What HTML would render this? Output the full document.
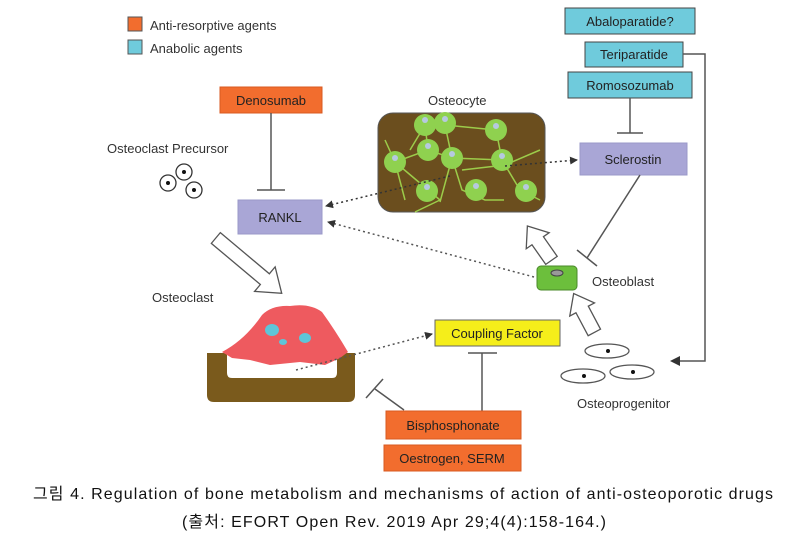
<!DOCTYPE html>
<html><head><meta charset="utf-8"><style>
body{margin:0;background:#fff;}
svg{display:block;font-family:"Liberation Sans","Noto Sans CJK KR",sans-serif;}
.t{font-size:13px;fill:#333;}
.b{font-size:13px;fill:#222;}
</style></head><body>
<svg width="802" height="541" viewBox="0 0 802 541" xmlns="http://www.w3.org/2000/svg">
<defs>
<marker id="ah" markerWidth="8" markerHeight="8" refX="7" refY="4" orient="auto" markerUnits="userSpaceOnUse"><path d="M0,0 L8,4 L0,8z" fill="#333"/></marker>
</defs>
<!-- legend -->
<rect x="128" y="17" width="14" height="14" fill="#f26d2e" stroke="#555"/>
<text x="150" y="30" class="t">Anti-resorptive agents</text>
<rect x="128" y="40" width="14" height="14" fill="#6fcbdc" stroke="#555"/>
<text x="150" y="53" class="t">Anabolic agents</text>

<!-- right boxes -->
<rect x="565" y="8" width="130" height="26" fill="#6fcbdc" stroke="#444"/>
<text x="630" y="26" class="b" text-anchor="middle">Abaloparatide?</text>
<rect x="585" y="42" width="98" height="25" fill="#6fcbdc" stroke="#444"/>
<text x="634" y="59" class="b" text-anchor="middle">Teriparatide</text>
<rect x="568" y="72" width="124" height="26" fill="#6fcbdc" stroke="#444"/>
<text x="630" y="90" class="b" text-anchor="middle">Romosozumab</text>
<rect x="580" y="143" width="107" height="32" fill="#a9a6d6" stroke="#9a98c8"/>
<text x="633" y="164" class="b" text-anchor="middle">Sclerostin</text>
<line x1="630" y1="98" x2="630" y2="133" stroke="#555" stroke-width="1.5"/>
<line x1="617" y1="133" x2="643" y2="133" stroke="#555" stroke-width="1.5"/>
<polyline points="683,54 705,54 705,361 676,361" fill="none" stroke="#555" stroke-width="1.5"/>
<path d="M670,361 L680,356 L680,366z" fill="#333"/>

<!-- Denosumab / RANKL -->
<rect x="220" y="87" width="102" height="26" fill="#f26d2e" stroke="#d85a20"/>
<text x="271" y="105" class="b" text-anchor="middle">Denosumab</text>
<line x1="271" y1="113" x2="271" y2="190" stroke="#555" stroke-width="1.5"/>
<line x1="257" y1="190" x2="285" y2="190" stroke="#555" stroke-width="1.5"/>
<rect x="238" y="200" width="84" height="34" fill="#a9a6d6" stroke="#9a98c8"/>
<text x="280" y="222" class="b" text-anchor="middle">RANKL</text>

<!-- precursor -->
<text x="107" y="153" class="t">Osteoclast Precursor</text>
<g fill="#fff" stroke="#333" stroke-width="1.3">
<circle cx="184" cy="172" r="8"/><circle cx="168" cy="183" r="8"/><circle cx="194" cy="190" r="8"/></g>
<g fill="#111"><circle cx="184" cy="172" r="2"/><circle cx="168" cy="183" r="2"/><circle cx="194" cy="190" r="2"/></g>
<!-- hollow arrow down-right -->
<g transform="translate(248,265) rotate(40)"><path d="M-42,-7 L22,-7 L22,-16 L44,0 L22,16 L22,7 L-42,7z" fill="#fff" stroke="#555" stroke-width="1.3"/></g>
<text x="152" y="302" class="t">Osteoclast</text>

<!-- osteoclast & bone -->
<path d="M207,353 L355,353 Q355,353 355,360 L355,395 Q355,402 348,402 L214,402 Q207,402 207,395z" fill="#7a5a1c"/>
<path d="M227,353 L337,353 L337,373 Q337,378 332,378 L232,378 Q227,378 227,373z" fill="#fff"/>
<path d="M222,352 Q245,340 262,315 Q272,305 290,306 Q310,303 322,312 Q335,330 348,352 L340,358 L325,365 L300,362 L270,365 L250,360 L232,358z" fill="#ee5a5f"/>
<ellipse cx="272" cy="330" rx="7" ry="6" fill="#5ec5d8"/><ellipse cx="305" cy="338" rx="6" ry="5" fill="#5ec5d8"/><ellipse cx="283" cy="342" rx="4" ry="3" fill="#5ec5d8"/>
<line x1="296" y1="370" x2="432" y2="334" stroke="#555" stroke-width="1.5" stroke-dasharray="2,3" marker-end="url(#ah)"/>

<!-- coupling factor -->
<rect x="435" y="320" width="125" height="26" fill="#f5ee1a" stroke="#666"/>
<text x="497" y="338" class="b" text-anchor="middle">Coupling Factor</text>
<line x1="482" y1="353" x2="482" y2="411" stroke="#555" stroke-width="1.5"/>
<line x1="468" y1="353" x2="497" y2="353" stroke="#555" stroke-width="1.5"/>
<line x1="404" y1="410" x2="375" y2="389" stroke="#555" stroke-width="1.5"/>
<line x1="366" y1="398" x2="383" y2="379" stroke="#555" stroke-width="1.5"/>
<rect x="386" y="411" width="135" height="28" fill="#f26d2e" stroke="#d85a20"/>
<text x="453" y="430" class="b" text-anchor="middle">Bisphosphonate</text>
<rect x="384" y="445" width="137" height="26" fill="#f26d2e" stroke="#d85a20"/>
<text x="452" y="463" class="b" text-anchor="middle">Oestrogen, SERM</text>

<!-- osteocyte -->
<text x="428" y="105" class="t">Osteocyte</text>
<rect x="378" y="113" width="167" height="99" rx="15" fill="#6b4e1e" stroke="#555"/>
<g stroke="#9ccc4a" stroke-width="1.5" fill="none">
<path d="M425,125 L445,125 L496,130 M425,125 L428,150 L395,162 L405,200 M428,150 L452,158 L440,202 M445,125 L452,158 L502,160 L496,130 M452,158 L462,190 L485,200 L504,200 M502,160 L520,190 M395,162 L440,200 M462,170 L505,165 L540,150 M395,162 L385,140 M440,200 L415,212 M520,190 L540,200 M425,125 L410,150"/>
</g>
<g fill="#8fd14f">
<circle cx="425" cy="125" r="11"/><circle cx="445" cy="123" r="11"/><circle cx="496" cy="130" r="11"/><circle cx="428" cy="150" r="11"/><circle cx="452" cy="158" r="11"/><circle cx="502" cy="160" r="11"/><circle cx="395" cy="162" r="11"/><circle cx="427" cy="191" r="11"/><circle cx="476" cy="190" r="11"/><circle cx="526" cy="191" r="11"/></g>
<g fill="#b6c9e0"><circle cx="425" cy="120" r="3"/><circle cx="445" cy="119" r="3"/><circle cx="496" cy="126" r="3"/><circle cx="428" cy="146" r="3"/><circle cx="452" cy="154" r="3"/><circle cx="502" cy="156" r="3"/><circle cx="395" cy="158" r="3"/><circle cx="427" cy="187" r="3"/><circle cx="476" cy="186" r="3"/><circle cx="526" cy="187" r="3"/></g>
<line x1="505" y1="166" x2="577" y2="160" stroke="#333" stroke-width="1.5" stroke-dasharray="2,3" marker-end="url(#ah)"/>
<line x1="450" y1="176" x2="326" y2="206" stroke="#333" stroke-width="1.5" stroke-dasharray="2,3" marker-end="url(#ah)"/>

<!-- osteoblast -->
<line x1="640" y1="175" x2="587" y2="258" stroke="#555" stroke-width="1.5"/>
<line x1="577" y1="250" x2="597" y2="266" stroke="#555" stroke-width="1.5"/>
<rect x="537" y="266" width="40" height="24" rx="4" fill="#6cbf3c" stroke="#4a8a2a"/>
<ellipse cx="557" cy="273" rx="6" ry="3" fill="#999" stroke="#444"/>
<text x="592" y="286" class="t">Osteoblast</text>
<line x1="534" y1="277" x2="328" y2="222" stroke="#555" stroke-width="1.5" stroke-dasharray="2,3" marker-end="url(#ah)"/>
<g transform="translate(540,244) rotate(-125)"><path d="M-20,-7 L4,-7 L4,-14 L22,0 L4,14 L4,7 L-20,7z" fill="#fff" stroke="#555" stroke-width="1.3"/></g>
<g transform="translate(584,313) rotate(-118)"><path d="M-22,-7 L4,-7 L4,-14 L22,0 L4,14 L4,7 L-22,7z" fill="#fff" stroke="#555" stroke-width="1.3"/></g>

<!-- progenitor -->
<g fill="#fff" stroke="#555" stroke-width="1.3">
<ellipse cx="607" cy="351" rx="22" ry="7"/><ellipse cx="583" cy="376" rx="22" ry="7"/><ellipse cx="632" cy="372" rx="22" ry="7"/></g>
<g fill="#111"><circle cx="608" cy="351" r="2"/><circle cx="584" cy="376" r="2"/><circle cx="633" cy="372" r="2"/></g>
<text x="577" y="408" class="t">Osteoprogenitor</text>

<!-- caption -->
<text x="33" y="499" style="font-size:16px;fill:#111" textLength="740">그림 4. Regulation of bone metabolism and mechanisms of action of anti-osteoporotic drugs</text>
<text x="182" y="527" style="font-size:16px;fill:#111" textLength="424">(출처: EFORT Open Rev. 2019 Apr 29;4(4):158-164.)</text>
</svg>
</body></html>
